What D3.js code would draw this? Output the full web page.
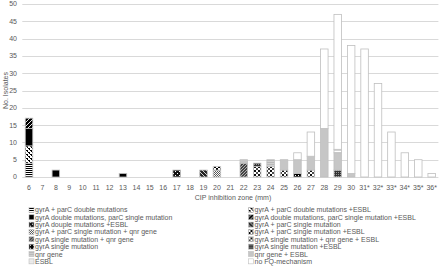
<!DOCTYPE html>
<html>
<head>
<meta charset="utf-8">
<script src="https://cdn.jsdelivr.net/npm/d3@7"></script>
<style>
  body { margin: 0; background: #fff; }
  svg { font-family: "Liberation Sans", Arial, sans-serif; }
</style>
</head>
<body>
<svg id="chart" width="440" height="267"></svg>
<script>
// Categories (CIP inhibition zone, mm)
var categories = ["6","7","8","9","10","11","12","13","14","15","16","17","18","19","20",
  "21","22","23","24","25","26","27","28","29","30","31*","32*","33*","34*","35*","36*"];

var yTicks = [0, 5, 10, 15, 20, 25, 30, 35, 40, 45, 50];

// Series names (stacking order = legend order)
var seriesNames = [
  "gyrA + parC double mutations",
  "gyrA + parC double mutations +ESBL",
  "gyrA double mutations, parC single mutation",
  "gyrA double mutations, parC single mutation +ESBL",
  "gyrA douple mutations +ESBL",
  "gyrA + parC single mutation",
  "gyrA + parC single mutation + qnr gene",
  "gyrA + parC single mutation +ESBL",
  "gyrA single mutation + qnr gene",
  "gyrA single mutation + qnr gene + ESBL",
  "gyrA single mutation",
  "gyrA single mutation +ESBL",
  "qnr gene",
  "qnr gene + ESBL",
  "ESBL",
  "no FQ-mechanism"
];

// Number of isolates per category, one array per series
//                      6 7 8 9 10 11 12 13 14 15 16 17 18 19 20 21 22 23 24 25 26 27 28 29 30 31 32 33 34 35 36
var gyrParDouble      = [4,0,0,0,0, 0, 0, 0, 0, 0, 0, 0, 0, 0, 0, 0, 0, 0, 0, 0, 0, 0, 0, 0, 0, 0, 0, 0, 0, 0, 0];
var gyrParDoubleEsbl  = [5,0,0,0,0, 0, 0, 0, 0, 0, 0, 0, 0, 0, 0, 0, 0, 0, 0, 0, 0, 0, 0, 0, 0, 0, 0, 0, 0, 0, 0];
var gyrDoubleParSingle= [5,0,2,0,0, 0, 0, 1, 0, 0, 0, 0, 0, 0, 0, 0, 0, 0, 0, 0, 0, 0, 0, 0, 0, 0, 0, 0, 0, 0, 0];
var gyrDblParSglEsbl  = [3,0,0,0,0, 0, 0, 0, 0, 0, 0, 0, 0, 0, 0, 0, 0, 0, 0, 0, 0, 0, 0, 0, 0, 0, 0, 0, 0, 0, 0];
var gyrDoubleEsbl     = [0,0,0,0,0, 0, 0, 0, 0, 0, 0, 2, 0, 0, 0, 0, 0, 0, 0, 0, 0, 0, 0, 0, 0, 0, 0, 0, 0, 0, 0];
var gyrParSingle      = [0,0,0,0,0, 0, 0, 0, 0, 0, 0, 0, 0, 2, 0, 0, 0, 0, 0, 0, 0, 0, 0, 0, 0, 0, 0, 0, 0, 0, 0];
var gyrParSingleQnr   = [0,0,0,0,0, 0, 0, 0, 0, 0, 0, 0, 0, 0, 2, 0, 0, 0, 0, 0, 0, 0, 0, 0, 0, 0, 0, 0, 0, 0, 0];
var gyrParSingleEsbl  = [0,0,0,0,0, 0, 0, 0, 0, 0, 0, 0, 0, 0, 1, 0, 0, 0, 0, 0, 0, 0, 0, 0, 0, 0, 0, 0, 0, 0, 0];
var gyrSingleQnr      = [0,0,0,0,0, 0, 0, 0, 0, 0, 0, 0, 0, 0, 0, 0, 4, 0, 0, 0, 0, 0, 0, 0, 0, 0, 0, 0, 0, 0, 0];
var gyrSingleQnrEsbl  = [0,0,0,0,0, 0, 0, 0, 0, 0, 0, 0, 0, 0, 0, 0, 0, 3, 3, 2, 0, 2, 0, 0, 0, 0, 0, 0, 0, 0, 0];
var gyrSingle         = [0,0,0,0,0, 0, 0, 0, 0, 0, 0, 0, 0, 0, 0, 0, 0, 0, 0, 0, 1, 0, 0, 0, 0, 0, 0, 0, 0, 0, 0];
var gyrSingleEsbl     = [0,0,0,0,0, 0, 0, 0, 0, 0, 0, 0, 0, 0, 0, 0, 0, 1, 0, 0, 0, 0, 0, 2, 0, 0, 0, 0, 0, 0, 0];
var qnrGene           = [0,0,0,0,0, 0, 0, 0, 0, 0, 0, 0, 0, 0, 0, 0, 0, 0, 2, 0, 0, 0, 0, 0, 0, 0, 0, 0, 0, 0, 0];
var qnrGeneEsbl       = [0,0,0,0,0, 0, 0, 0, 0, 0, 0, 0, 0, 0, 0, 0, 1, 0, 0, 3, 4, 4,14, 5, 1, 0, 0, 0, 0, 0, 0];
var esblOnly          = [0,0,0,0,0, 0, 0, 0, 0, 0, 0, 0, 0, 0, 0, 0, 0, 0, 0, 0, 0, 0, 0, 1, 0, 0, 0, 0, 0, 0, 0];
var noFq              = [0,0,0,0,0, 0, 0, 0, 0, 0, 0, 0, 0, 0, 0, 0, 0, 0, 0, 0, 2, 7,23,39,37,37,27,13, 7, 5, 1];

var seriesValues = [gyrParDouble, gyrParDoubleEsbl, gyrDoubleParSingle, gyrDblParSglEsbl,
  gyrDoubleEsbl, gyrParSingle, gyrParSingleQnr, gyrParSingleEsbl, gyrSingleQnr,
  gyrSingleQnrEsbl, gyrSingle, gyrSingleEsbl, qnrGene, qnrGeneEsbl, esblOnly, noFq];

var svg = d3.select("#chart");
var defs = svg.append("defs");

// Pattern fills, roughly like the Excel ones
function pat(id, size, bg, draw) {
  var p = defs.append("pattern").attr("id", id)
    .attr("patternUnits", "userSpaceOnUse")
    .attr("width", size).attr("height", size);
  p.append("rect").attr("width", size).attr("height", size).attr("fill", bg);
  draw(p);
}
function rects(p, list, fill) {
  list.forEach(function(r) {
    p.append("rect").attr("x", r[0]).attr("y", r[1]).attr("width", r[2]).attr("height", r[3]).attr("fill", fill);
  });
}

pat("p0", 2, "#fff", function(p) { rects(p, [[0, 0, 2, 1]], "#000"); });
pat("p1", 4, "#fff", function(p) { rects(p, [[0, 0, 2, 1], [2, 2, 2, 1], [1, 1, 1, 1], [3, 3, 1, 1]], "#000"); });
pat("p2", 2, "#000", function(p) {});
pat("p3", 4, "#000", function(p) {
  p.append("path").attr("d", "M0,4 L4,0 M-1,1 L1,-1 M3,5 L5,3").attr("stroke", "#fff").attr("stroke-width", 0.9);
});
pat("p4", 4, "#111", function(p) { rects(p, [[1, 1, 1, 1], [3, 3, 1, 1]], "#fff"); });
pat("p5", 4, "#222", function(p) {
  p.append("path").attr("d", "M0,0 L4,4 M-1,3 L1,5 M3,-1 L5,1").attr("stroke", "#fff").attr("stroke-width", 0.8);
});
pat("p6", 2, "#fff", function(p) { rects(p, [[0, 0, 1, 1], [1, 1, 1, 1]], "#555"); });
pat("p7", 4, "#fff", function(p) { rects(p, [[0, 0, 2, 2], [2, 2, 2, 2]], "#000"); });
pat("p8", 3, "#444", function(p) {
  p.append("path").attr("d", "M0,3 L3,0").attr("stroke", "#ddd").attr("stroke-width", 0.7);
});
pat("p9", 4, "#fff", function(p) { rects(p, [[0, 0, 2, 2], [2, 2, 2, 2]], "#111"); rects(p, [[0.5, 0.5, 1, 1]], "#fff"); });
pat("p10", 3, "#000", function(p) { rects(p, [[1, 1, 1, 1]], "#fff"); });
pat("p11", 2, "#333", function(p) { rects(p, [[0, 0, 1, 1]], "#999"); });
pat("p12", 2, "#d0d0d0", function(p) { rects(p, [[0, 0, 2, 1]], "#b8b8b8"); });
pat("p13", 2, "#c6c6c6", function(p) {});
pat("p14", 2, "#fff", function(p) { rects(p, [[0, 0, 2, 1]], "#d4d4d4"); });
pat("p15", 2, "#fff", function(p) {});

var x = d3.scaleBand()
  .domain(categories)
  .range([22.3, 438.4])
  .paddingInner(0.44)
  .paddingOuter(0.22);

var y = d3.scaleLinear()
  .domain([0, 50])
  .range([177, 4]);

// Grid lines
svg.append("g").selectAll("line")
  .data(yTicks)
  .enter().append("line")
  .attr("x1", 22.3).attr("x2", 438.4)
  .attr("y1", d => Math.round(y(d)) + 0.5)
  .attr("y2", d => Math.round(y(d)) + 0.5)
  .attr("stroke", "#d9d9d9")
  .attr("stroke-width", 1);

// Y tick labels
svg.append("g").selectAll("text")
  .data(yTicks)
  .enter().append("text")
  .attr("x", 17)
  .attr("y", d => y(d) + 2.4)
  .attr("text-anchor", "end")
  .style("font-size", "7px")
  .attr("fill", "#595959")
  .text(d => d);

// X tick labels
svg.append("g").selectAll("text")
  .data(categories)
  .enter().append("text")
  .attr("x", d => x(d) + x.bandwidth() / 2)
  .attr("y", 189.5)
  .attr("text-anchor", "middle")
  .style("font-size", "7px")
  .attr("fill", "#595959")
  .text(d => d);

// Stacked bars
var rows = categories.map(function(c, i) {
  var row = { cat: c };
  seriesNames.forEach(function(s, k) { row[s] = seriesValues[k][i]; });
  return row;
});
var stacked = d3.stack().keys(seriesNames)(rows);

svg.append("g").selectAll("g")
  .data(stacked)
  .enter().append("g")
  .attr("fill", (d, k) => "url(#p" + k + ")")
  .selectAll("rect")
  .data(d => d.filter(v => v[1] > v[0]))
  .enter().append("rect")
  .attr("x", d => x(d.data.cat))
  .attr("y", d => y(d[1]))
  .attr("width", x.bandwidth())
  .attr("height", d => y(d[0]) - y(d[1]))
  .attr("stroke", "#bfbfbf")
  .attr("stroke-width", 0.8);

// Axis titles
svg.append("text")
  .attr("x", 233)
  .attr("y", 199.5)
  .attr("text-anchor", "middle")
  .style("font-size", "7px")
  .attr("fill", "#595959")
  .text("CIP inhibition zone (mm)");

svg.append("text")
  .attr("transform", "translate(7.5,90.5) rotate(-90)")
  .attr("text-anchor", "middle")
  .style("font-size", "7px")
  .attr("fill", "#595959")
  .text("No. Isolates");

// Legend, two columns, filled row by row
var legend = svg.append("g").selectAll("g")
  .data(seriesNames)
  .enter().append("g")
  .attr("transform", (d, k) => "translate(" + (k % 2 === 0 ? 29 : 248.5) + "," + (210 + Math.floor(k / 2) * 7.35) + ")");

legend.append("rect")
  .attr("x", 0).attr("y", -2.6)
  .attr("width", 5).attr("height", 5)
  .attr("fill", (d, k) => "url(#p" + k + ")")
  .attr("stroke", "#bfbfbf")
  .attr("stroke-width", 0.6);

legend.append("text")
  .attr("x", 6)
  .attr("y", 2.4)
  .style("font-size", "7px")
  .attr("fill", "#595959")
  .text(d => d);
</script>
</body>
</html>
